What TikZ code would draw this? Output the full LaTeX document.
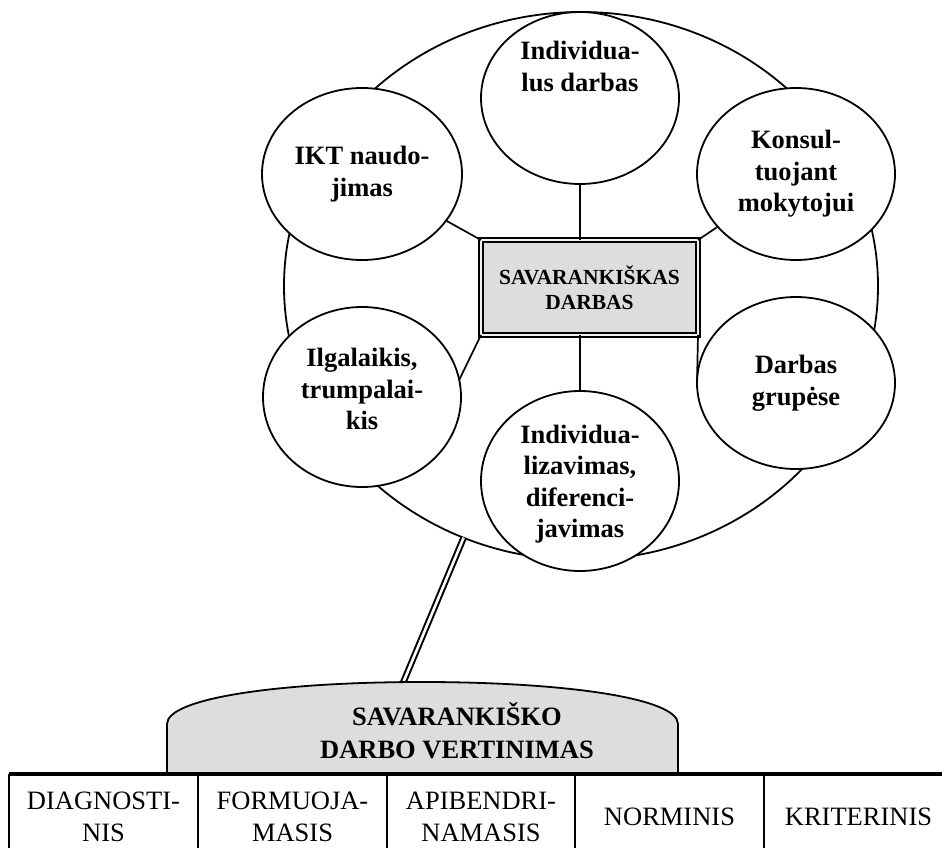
\documentclass[tikz,border=0pt]{standalone}
\usepackage{fontspec}
\setmainfont{Liberation Serif}
\usepackage{tikz}
\usepackage{xcolor}
\usetikzlibrary{shapes.geometric}
\definecolor{lightfill}{HTML}{DDDDDD}
\newcommand{\bubfont}{\fontsize{26.5}{31.5}\selectfont\bfseries}
\newcommand{\boxfont}{\fontsize{21.5}{25}\selectfont\bfseries}
\newcommand{\domefont}{\fontsize{26.5}{33}\selectfont\bfseries}
\newcommand{\cellfont}{\fontsize{26.5}{32}\selectfont}

\begin{document}
\begin{tikzpicture}[x=1pt,y=-1pt,
  every node/.style={inner sep=0pt,outer sep=0pt,align=center},
  bubble/.style={ellipse,draw=black,line width=1.8pt,fill=white,minimum width=198pt,minimum height=172pt,font=\bubfont},
  link/.style={-,draw=black,line width=1.7pt},
  cell/.style={rectangle,minimum height=86pt,font=\cellfont}]

 \useasboundingbox (0,0) rectangle (942,848);

 \draw (581,286) node[ellipse,draw=black,line width=1.8pt,minimum width=594pt,minimum height=548pt] (ring) {};

 \draw (580,98)  node[bubble] (indiv) {Individua-\\lus darbas\\~\\~};

 \draw (362,174) node[bubble,minimum width=200pt] (ikt) {IKT naudo-\\jimas};

 \draw (796,174) node[bubble] (kons) {Konsul-\\tuojant\\mokytojui};

 \draw (362,397) node[bubble,minimum height=180pt] (ilg) {Ilgalaikis,\\trumpalai-\\kis\\[-16pt]~};

 \draw (796,383) node[bubble] (grup) {Darbas\\grupėse};

 \draw (580,481) node[bubble,minimum height=180pt] (diff) {\\[-7pt]Individua-\\lizavimas,\\diferenci-\\javimas};

 \draw (589.5,287.5) node[rectangle,draw=black,fill=lightfill,line width=2.1pt,double=gray!10,double distance=2.2pt,minimum width=217pt,minimum height=95pt,font=\boxfont] (box) {SAVARANKIŠKAS\\DARBAS};

 \draw[link] (indiv) -- (indiv |- box.north);
 \draw[link] (diff) -- (diff |- box.south);
 \draw[link] (box.north west) -- (ikt);
 \draw[link] (box.north east) -- (kons);
 \draw[link] (box.south west) -- (ilg.10);
 \draw[link] (box.south east) -- (grup.west);

 \coordinate (domeTop) at (403,683);
 \draw[draw=black,line width=2pt,double=white,double distance=2.6pt] (ring.245) -- (domeTop);

 \draw[draw=black,line width=1.8pt,fill=lightfill] (167,774) -- (167,724)
   .. controls (167,698) and (280,682) .. (422,682)
   .. controls (564,682) and (678,698) .. (678,724) -- (678,774);

 \draw (457,731) node[font=\domefont] (vert) {SAVARANKIŠKO\\DARBO VERTINIMAS};

 \draw (103.5,817) node[cell,minimum width=189pt] (c1) {DIAGNOSTI-\\NIS};
 \draw (292.5,817) node[cell,minimum width=189pt] (c2) {FORMUOJA-\\MASIS};
 \draw (481,817)   node[cell,minimum width=188pt] (c3) {APIBENDRI-\\NAMASIS};
 \draw (669.5,817) node[cell,minimum width=189pt] (c4) {NORMINIS};
 \draw (858.5,817) node[cell,minimum width=189pt] (c5) {KRITERINIS};

 \draw[draw=black,line width=2.6pt] (c1.north west) -- (c1.south west);
 \draw[draw=black,line width=1.8pt] (c1.north east) -- (c1.south east);
 \draw[draw=black,line width=1.8pt] (c2.north east) -- (c2.south east);
 \draw[draw=black,line width=1.8pt] (c3.north east) -- (c3.south east);
 \draw[draw=black,line width=1.8pt] (c4.north east) -- (c4.south east);
 \draw[draw=black,line width=3.2pt] (c1.north west) -- (c5.north east);

\end{tikzpicture}
\end{document}
